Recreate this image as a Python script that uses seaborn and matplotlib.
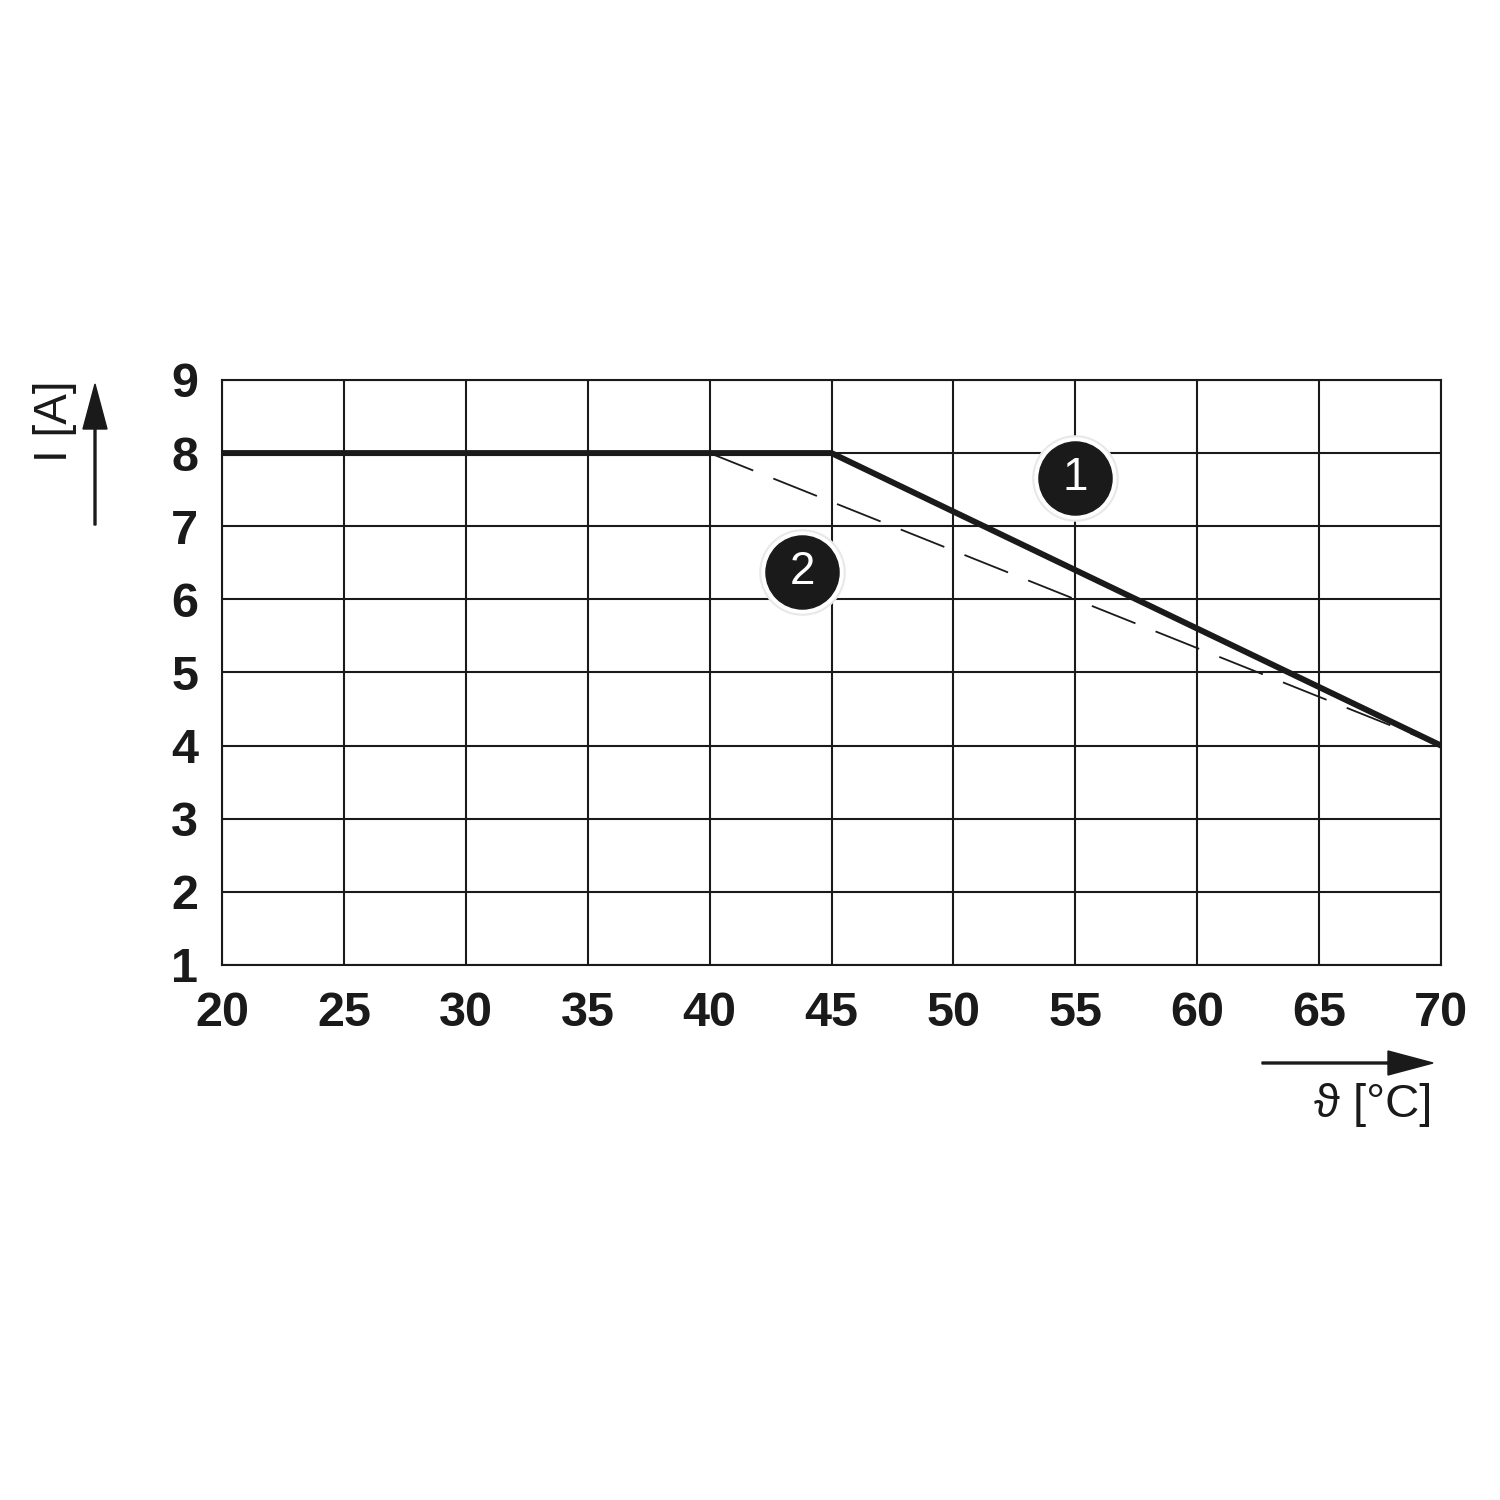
import matplotlib
matplotlib.use("Agg")
import matplotlib.pyplot as plt
import seaborn as sns
import pandas as pd

# derating curves
temp_1 = [20, 45, 70]
current_1 = [8, 8, 4]
temp_2 = [40, 70]
current_2 = [8, 4]

# numbered callouts
callout_labels = ["1", "2"]
callout_x = [55.0, 43.8]
callout_y = [7.66, 6.37]

x_ticks = [20, 25, 30, 35, 40, 45, 50, 55, 60, 65, 70]
y_ticks = [1, 2, 3, 4, 5, 6, 7, 8, 9]

sns.set_style("white")
plt.rcParams['font.family'] = ['Liberation Sans', 'DejaVu Sans']

fig = plt.figure(figsize=(15, 15), dpi=100)
ax = fig.add_axes([0.148, 0.3567, 0.8127, 0.39])

df1 = pd.DataFrame({"temp": temp_1, "current": current_1})
df2 = pd.DataFrame({"temp": temp_2, "current": current_2})

sns.lineplot(data=df1, x="temp", y="current", ax=ax, color="#1a1a1a",
             linewidth=4.3, solid_capstyle="round", zorder=4)
sns.lineplot(data=df2, x="temp", y="current", ax=ax, color="#1a1a1a",
             linewidth=1.3, dashes=False, zorder=3)
ax.lines[-1].set_dashes((26, 12))

ax.set_xlim(20, 70)
ax.set_ylim(1, 9)
ax.set_xticks(x_ticks)
ax.set_yticks(y_ticks)
ax.grid(True, color="#1a1a1a", linewidth=1.5)
for s in ax.spines.values():
    s.set_color("#1a1a1a")
    s.set_linewidth(1.5)
ax.tick_params(length=0, labelsize=35)
ax.tick_params(axis="x", pad=19)
ax.tick_params(axis="y", pad=17)
for lab in ax.get_xticklabels() + ax.get_yticklabels():
    lab.set_fontweight("bold")
    lab.set_color("#1a1a1a")
ax.set_xlabel("")
ax.set_ylabel("")

# callouts
ax.scatter(callout_x, callout_y, s=3700, color="white", edgecolors="#e8e8e8",
           linewidths=1.5, zorder=5, clip_on=False)
ax.scatter(callout_x, callout_y, s=2770, color="#1a1a1a", zorder=6, clip_on=False)
for lab, cx, cy in zip(callout_labels, callout_x, callout_y):
    ax.text(cx, cy, lab, color="white", fontsize=33, ha="center", va="center",
            zorder=7)

# axis arrows and labels
fig.patches.append(matplotlib.patches.FancyArrow(
    95 / 1500, 1 - 525 / 1500, 0, (525 - 384) / 1500, width=0.0013,
    head_width=0.016, head_length=0.03, length_includes_head=True,
    color="#1a1a1a", transform=fig.transFigure))
fig.text(55 / 1500, 1 - 421 / 1500, "I [A]", rotation=90, fontsize=33,
         ha="center", va="center", color="#1a1a1a")

fig.patches.append(matplotlib.patches.FancyArrow(
    1262 / 1500, 1 - 1063 / 1500, (1433 - 1262) / 1500, 0, width=0.0013,
    head_width=0.016, head_length=0.03, length_includes_head=True,
    color="#1a1a1a", transform=fig.transFigure))
fig.text(1432 / 1500, 1 - 1105 / 1500, "ϑ [°C]", fontsize=34,
         ha="right", va="center", color="#1a1a1a",
         family=['Liberation Sans', 'DejaVu Sans'])

fig.savefig("out.png", dpi=100, facecolor="white")
